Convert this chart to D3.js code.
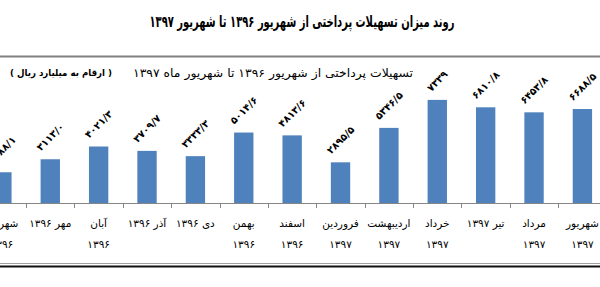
<!DOCTYPE html>
<html><head><meta charset="utf-8">
<script src="https://cdn.jsdelivr.net/npm/d3@7"></script>
<style>html,body{margin:0;padding:0;background:#fff;overflow:hidden}</style>
</head><body>
<svg id="c" width="600" height="287"></svg>
<script>
// Data (chronological order, drawn left-to-right)
const categories = ["شهریور ۱۳۹۶","مهر ۱۳۹۶","آبان ۱۳۹۶","آذر ۱۳۹۶","دی ۱۳۹۶","بهمن ۱۳۹۶","اسفند ۱۳۹۶","فروردین ۱۳۹۷","اردیبهشت ۱۳۹۷","خرداد ۱۳۹۷","تیر ۱۳۹۷","مرداد ۱۳۹۷","شهریور ۱۳۹۷"];
const labelLines = [["شهریور","۱۳۹۶"],["مهر ۱۳۹۶"],["آبان","۱۳۹۶"],["آذر ۱۳۹۶"],["دی ۱۳۹۶"],["بهمن","۱۳۹۶"],["اسفند","۱۳۹۶"],["فروردین","۱۳۹۷"],["اردیبهشت","۱۳۹۷"],["خرداد","۱۳۹۷"],["تیر ۱۳۹۷"],["مرداد","۱۳۹۷"],["شهریور","۱۳۹۷"]];
const values = [2188.1,3113.0,4021.3,3709.7,3333.3,5014.6,4813.6,2895.5,5346.5,7339,6810.8,6453.8,6688.5];
const valueLabels = ["۲۱۸۸/۱","۳۱۱۳/۰","۴۰۲۱/۳","۳۷۰۹/۷","۳۳۳۳/۳","۵۰۱۴/۶","۴۸۱۳/۶","۲۸۹۵/۵","۵۳۴۶/۵","۷۳۳۹","۶۸۱۰/۸","۶۴۵۳/۸","۶۶۸۸/۵"];
const title = "روند میزان تسهیلات پرداختی از شهریور ۱۳۹۶ تا شهریور ۱۳۹۷";
const subtitle = "تسهیلات پرداختی از شهریور ۱۳۹۶ تا شهریور ماه ۱۳۹۷";
const unitNote = "( ارقام به میلیارد ریال )";

const svg = d3.select("#c");
const FONT = "'DejaVu Sans', sans-serif";
const axisY = 203;

const x = d3.scaleBand().domain(categories).range([-22.3, 606.6]).paddingInner(0.6).paddingOuter(0.3);
const y = d3.scaleLinear().domain([0, 8000]).range([axisY, axisY - 8000*0.01405]);
const step = x.step();

// borders
svg.append("line").attr("x1",0).attr("x2",600).attr("y1",56.5).attr("y2",56.5).attr("stroke","#808080").attr("stroke-width",2);
svg.append("line").attr("x1",0).attr("x2",600).attr("y1",263.5).attr("y2",263.5).attr("stroke","#a0a0a0").attr("stroke-width",1);
svg.append("line").attr("x1",0).attr("x2",600).attr("y1",266.5).attr("y2",266.5).attr("stroke","#111").attr("stroke-width",2);

// title
svg.append("text").attr("x",302).attr("y",27).attr("text-anchor","middle").attr("direction","rtl")
  .attr("font-family",FONT).attr("font-weight","bold").attr("font-size",16).attr("fill","#000")
  .attr("textLength",305).attr("lengthAdjust","spacingAndGlyphs").text(title);

svg.append("text").attr("x",273).attr("y",77).attr("text-anchor","middle").attr("direction","rtl")
  .attr("font-family",FONT).attr("font-size",11.5).attr("fill","#000")
  .attr("textLength",280).attr("lengthAdjust","spacingAndGlyphs").text(subtitle);
svg.append("text").attr("x",61).attr("y",76).attr("text-anchor","middle").attr("direction","rtl")
  .attr("font-family",FONT).attr("font-weight","bold").attr("font-size",9.5).attr("fill","#000")
  .attr("textLength",102).attr("lengthAdjust","spacingAndGlyphs").text(unitNote);

// bars
svg.append("g").selectAll("rect").data(categories).join("rect")
  .attr("x", d => x(d)).attr("width", x.bandwidth())
  .attr("y", (d,i) => y(values[i])).attr("height", (d,i) => axisY - y(values[i]))
  .attr("fill", "#4f81bd");

// axis line and ticks
svg.append("line").attr("x1",0).attr("x2",600).attr("y1",axisY+0.5).attr("y2",axisY+0.5).attr("stroke","#868686").attr("stroke-width",1);
const bounds = categories.map(c => x(c) + x.bandwidth()/2 - step/2);
svg.append("g").selectAll("line").data(bounds).join("line")
  .attr("x1", d => Math.round(d)+0.5).attr("x2", d => Math.round(d)+0.5)
  .attr("y1", axisY).attr("y2", axisY+5).attr("stroke","#868686");

// category labels
const lab = svg.append("g").selectAll("text").data(categories).join("text")
  .attr("text-anchor","middle").attr("direction","rtl")
  .attr("font-family",FONT).attr("font-size",10.5).attr("fill","#000");
lab.each(function(d,i){
  const cx = x(d) + x.bandwidth()/2;
  const el = d3.select(this);
  labelLines[i].forEach((ln,j) => {
    el.append("tspan").attr("x",cx).attr("y", 227 + j*21).text(ln);
  });
});

// value labels, rotated -45
svg.append("g").selectAll("text").data(categories).join("text")
  .attr("text-anchor","middle").attr("direction","rtl")
  .attr("font-family",FONT).attr("font-weight","bold").attr("font-size",10).attr("fill","#000")
  .text((d,i) => valueLabels[i])
  .each(function(d,i){
    const L = this.getComputedTextLength();
    const h = 9;
    const half = (L + h) * 0.7071 / 2;
    const cx = x(d) + x.bandwidth()/2;
    const cy = y(values[i]) - 7 - half;
    d3.select(this).attr("transform", `translate(${cx},${cy}) rotate(-45)`).attr("dy","0.35em");
  });
</script>
</body></html>
